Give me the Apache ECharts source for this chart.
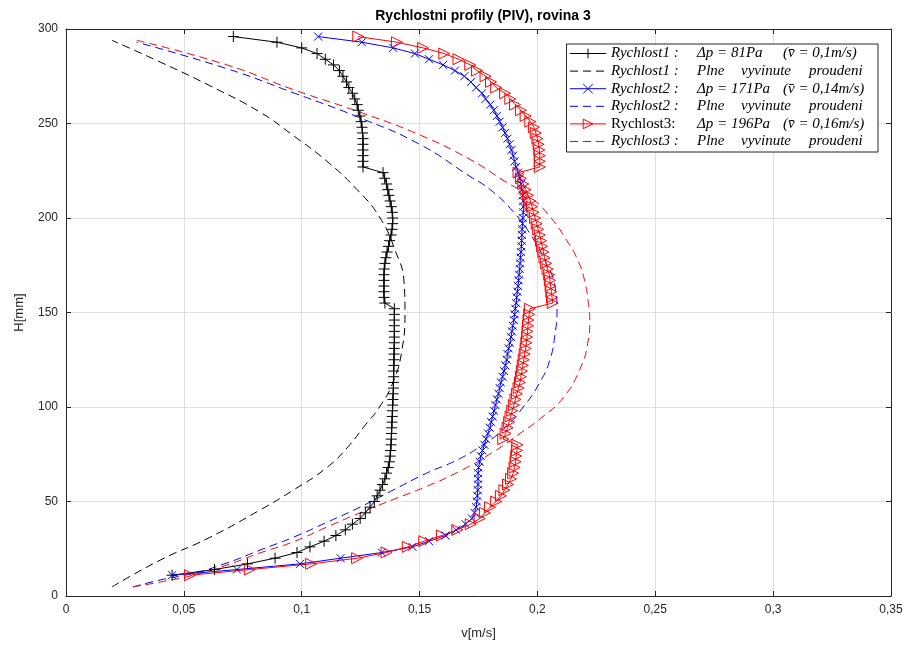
<!DOCTYPE html>
<html>
<head>
<meta charset="utf-8">
<script src="https://cdn.jsdelivr.net/npm/echarts@6/dist/echarts.min.js"></script>
<style>
    html, body { margin: 0; padding: 0; background: #fff; }
    #chart { width: 907px; height: 646px; }
</style>
</head>
<body>
<div id="chart"></div>
<script>
// heights of the PIV samples [mm]
var H = [
    11,14,17,20,23,26,29,32,
    35,38,41,44,47,50,53,56,
    59,62,65,68,71,74,77,80,
    83,86,89,92,95,98,101,104,
    107,110,113,116,119,122,125,128,
    131,134,137,140,143,146,149,152,
    155,158,161,164,167,170,173,176,
    179,182,185,188,191,194,197,200,
    203,206,209,212,215,218,221,224,
    227,230,233,236,239,242,245,248,
    251,254,257,260,263,266,269,272,
    275,278,281,284,287,290,293,296
];
// Rychlost1 [m/s]
var v1 = [
    0.045,0.063,0.077,0.0887,0.098,0.1035,0.1095,0.1145,
    0.1185,0.1215,0.1248,0.127,0.129,0.1308,0.132,0.1332,
    0.1343,0.1353,0.136,0.1367,0.1372,0.1375,0.1377,0.1379,
    0.138,0.1381,0.1382,0.1383,0.1384,0.1385,0.1386,0.1387,
    0.1388,0.1389,0.1389,0.139,0.139,0.1391,0.1391,0.1392,
    0.1392,0.1393,0.1393,0.1393,0.1393,0.1393,0.1393,0.1393,
    0.1353,0.1349,0.1349,0.1349,0.1349,0.1349,0.135,0.1353,
    0.1357,0.1362,0.1368,0.1373,0.1379,0.1383,0.1386,0.1386,
    0.1384,0.138,0.1375,0.137,0.1365,0.136,0.1352,0.1345,
    0.126,0.126,0.126,0.126,0.126,0.126,0.1258,0.1256,
    0.1252,0.1247,0.124,0.1235,0.1225,0.1215,0.120,0.119,
    0.1175,0.116,0.1135,0.110,0.1065,0.100,0.0895,0.071
];
// Rychlost2 [m/s]
var v2 = [
    0.045,0.0725,0.0993,0.1165,0.134,0.147,0.154,0.161,
    0.1655,0.1695,0.1722,0.1733,0.174,0.1743,0.1745,0.1747,
    0.1748,0.1748,0.1748,0.175,0.1755,0.176,0.1767,0.1775,
    0.1782,0.179,0.1798,0.1804,0.181,0.1816,0.1822,0.1828,
    0.1835,0.184,0.1845,0.1852,0.1858,0.1864,0.187,0.1873,
    0.1878,0.1883,0.1888,0.1892,0.1895,0.19,0.1903,0.1906,
    0.191,0.1912,0.1915,0.1918,0.192,0.1922,0.1925,0.1926,
    0.1928,0.193,0.1932,0.1933,0.1934,0.1935,0.1937,0.1938,
    0.194,0.194,0.194,0.1938,0.1935,0.193,0.1925,0.1918,
    0.191,0.1903,0.1897,0.189,0.1882,0.1873,0.1863,0.1852,
    0.184,0.1828,0.1815,0.18,0.178,0.1765,0.174,0.1718,
    0.169,0.165,0.16,0.154,0.148,0.1388,0.1255,0.107
];
// Rychlost3 [m/s]
var v3 = [
    0.0526,0.078,0.104,0.1235,0.136,0.145,0.152,0.1595,
    0.166,0.1717,0.1755,0.1777,0.1799,0.1825,0.1845,0.186,
    0.1875,0.1888,0.1897,0.1903,0.1907,0.191,0.1913,0.1915,
    0.1855,0.1865,0.1873,0.188,0.1886,0.1893,0.19,0.1907,
    0.1913,0.192,0.1926,0.193,0.1934,0.1938,0.1942,0.1946,
    0.195,0.1953,0.1956,0.1958,0.196,0.1962,0.1965,0.1968,
    0.2065,0.2062,0.2059,0.2056,0.2053,0.205,0.2043,0.2037,
    0.203,0.2025,0.202,0.2015,0.201,0.2003,0.1997,0.199,
    0.1983,0.1977,0.197,0.196,0.195,0.194,0.193,0.192,
    0.201,0.201,0.201,0.2008,0.2005,0.2,0.1993,0.1985,
    0.197,0.195,0.193,0.1905,0.1885,0.1863,0.1825,0.1803,
    0.178,0.1744,0.1715,0.1665,0.1605,0.1515,0.1404,0.124
];

// plne vyvinute proudeni (dashed profiles)
var p1H = [4.8,19,31,45.5,56,68,79,89,100,113,130,150,166,183,200.5,215,230,244,256,270,282.5,294];
var p1V = [0.0195,0.040,0.061,0.0823,0.0964,0.1107,0.1197,0.126,0.133,0.1387,0.1425,0.1438,0.1434,0.1396,0.133,0.1235,0.1107,0.096,0.0823,0.061,0.040,0.0195];
var p2H = [4.8,8.5,12,17.5,24.3,31,39,47,56,65,72,79,88,100,113,125,139,151,163.5,178,190,203,215,222,239,253,266,279,293];
var p2V = [0.0284,0.040,0.054,0.0683,0.0823,0.0963,0.1107,0.1247,0.1387,0.153,0.166,0.1756,0.1854,0.194,0.201,0.2053,0.2075,0.2083,0.2075,0.203,0.1977,0.190,0.180,0.1714,0.150,0.1247,0.097,0.0683,0.030];
var p3H = [4.8,7.4,11,16.4,22.8,28.6,36.5,44,51,58,66,76,86,95,105,120,135,146,153,167,178,188,200.5,211,220,231,244,256,268,281,294];
var p3V = [0.0284,0.040,0.054,0.0683,0.0823,0.0963,0.1107,0.1247,0.1387,0.153,0.167,0.181,0.1926,0.2024,0.211,0.218,0.2215,0.2222,0.2218,0.220,0.217,0.2125,0.2055,0.197,0.1854,0.1714,0.150,0.1247,0.0963,0.0683,0.030];

function pairs(vs, hs) {
    return hs.map(function (h, i) { return [vs[i], h]; });
}

var symPlus = 'path://M0,6L12,6M6,0L6,12';
var symCross = 'path://M0,0L10,10M0,10L10,0';
var symTri = 'path://M0,0L12,6L0,12Z';
var symHidden = 'path://M0,0L1,1';
var clear = 'rgba(0,0,0,0)';

var legendText = {
    'Rychlost1': '{a|Rychlost1 :}{b|Δp = 81Pa}{c|(v\u0304 = 0,1m/s)}',
    'Rychlost1 plne': '{a|Rychlost1 :}{p|Plne}{q|vyvinute}{c|proudeni}',
    'Rychlost2': '{a|Rychlost2 :}{b|Δp = 171Pa}{c|(v\u0304 = 0,14m/s)}',
    'Rychlost2 plne': '{a|Rychlost2 :}{p|Plne}{q|vyvinute}{c|proudeni}',
    'Rychlost3': '{ar|Rychlost3:}{b|Δp = 196Pa}{c|(v\u0304 = 0,16m/s)}',
    'Rychlost3 plne': '{a|Rychlost3 :}{p|Plne}{q|vyvinute}{c|proudeni}'
};

function measured(name, vs, color, sym, size) {
    return {
        name: name,
        type: 'line',
        data: pairs(vs, H),
        symbol: sym,
        symbolSize: size,
        showSymbol: true,
        lineStyle: { color: color, width: 1 },
        itemStyle: { color: 'none', borderColor: color, borderWidth: 1 },
        emphasis: { disabled: true },
        z: 3
    };
}
function plne(name, vs, hs, color) {
    return {
        name: name,
        type: 'line',
        data: pairs(vs, hs),
        symbol: symHidden,
        symbolSize: 2,
        showSymbol: false,
        smooth: true,
        lineStyle: { color: color, width: 1, type: [8, 5] },
        itemStyle: { color: clear, borderColor: clear, borderWidth: 0 },
        emphasis: { disabled: true },
        z: 2
    };
}

var axisCol = '#262626';
var serif = 'Liberation Serif';
function rs(extra) {
    var s = { fontFamily: serif, fontStyle: 'italic', fontSize: 15, lineHeight: 15, color: '#000' };
    for (var k in extra) s[k] = extra[k];
    return s;
}

var chart = echarts.init(document.getElementById('chart'));
chart.setOption({
    animation: false,
    backgroundColor: '#fff',
    title: {
        text: 'Rychlostni profily (PIV), rovina 3',
        left: 478,
        textAlign: 'center',
        top: 4,
        textStyle: { fontFamily: 'Liberation Sans', fontSize: 14, fontWeight: 'bold', color: '#000' }
    },
    grid: { left: 66, right: 16, top: 29, bottom: 50 },
    legend: {
        orient: 'vertical',
        right: 29,
        top: 44,
        padding: [2, 3, 3, 3],
        itemGap: 2.6,
        itemWidth: 36,
        itemHeight: 12,
        backgroundColor: '#fff',
        borderColor: axisCol,
        borderWidth: 1,
        selectedMode: false,
        lineStyle: { width: 1 },
        itemStyle: { borderWidth: 1 },
        formatter: function (name) { return legendText[name]; },
        textStyle: {
            color: '#000',
            fontSize: 15,
            lineHeight: 15,
            rich: {
                a: rs({ width: 86 }),
                ar: rs({ fontStyle: 'normal', width: 86 }),
                b: rs({ width: 86 }),
                c: rs({ width: 66 }),
                p: rs({ width: 44 }),
                q: rs({ width: 68 })
            }
        },
        data: ['Rychlost1', 'Rychlost1 plne', 'Rychlost2', 'Rychlost2 plne', 'Rychlost3', 'Rychlost3 plne']
    },
    xAxis: [{
        type: 'value',
        min: 0, max: 0.35, interval: 0.05,
        position: 'bottom',
        name: 'v[m/s]',
        nameLocation: 'middle',
        nameGap: 31,
        nameTextStyle: { fontFamily: 'Liberation Sans', fontSize: 13, color: axisCol },
        axisLine: { show: true, onZero: false, lineStyle: { color: axisCol, width: 1 } },
        axisTick: { show: true, inside: true, length: 5, lineStyle: { color: axisCol } },
        axisLabel: {
            fontFamily: 'Liberation Sans', fontSize: 12, color: axisCol, margin: 8,
            formatter: function (v) { return String(+v.toFixed(2)).replace('.', ','); }
        },
        splitLine: { show: true, lineStyle: { color: '#dfdfdf', width: 1 } }
    }, {
        type: 'value',
        min: 0, max: 0.35, interval: 0.05,
        position: 'top',
        axisLine: { show: true, onZero: false, lineStyle: { color: axisCol, width: 1 } },
        axisTick: { show: true, inside: true, length: 5, lineStyle: { color: axisCol } },
        axisLabel: { show: false },
        splitLine: { show: false }
    }],
    yAxis: [{
        type: 'value',
        min: 0, max: 300, interval: 50,
        position: 'left',
        name: 'H[mm]',
        nameLocation: 'middle',
        nameGap: 40,
        nameTextStyle: { fontFamily: 'Liberation Sans', fontSize: 13, color: axisCol },
        axisLine: { show: true, onZero: false, lineStyle: { color: axisCol, width: 1 } },
        axisTick: { show: true, inside: true, length: 5, lineStyle: { color: axisCol } },
        axisLabel: { fontFamily: 'Liberation Sans', fontSize: 12, color: axisCol, margin: 8 },
        splitLine: { show: true, lineStyle: { color: '#dfdfdf', width: 1 } }
    }, {
        type: 'value',
        min: 0, max: 300, interval: 50,
        position: 'right',
        axisLine: { show: true, onZero: false, lineStyle: { color: axisCol, width: 1 } },
        axisTick: { show: true, inside: true, length: 5, lineStyle: { color: axisCol } },
        axisLabel: { show: false },
        splitLine: { show: false }
    }],
    series: [
        measured('Rychlost1', v1, '#000000', symPlus, 11),
        plne('Rychlost1 plne', p1V, p1H, '#000000'),
        measured('Rychlost2', v2, '#0000ff', symCross, 8),
        plne('Rychlost2 plne', p2V, p2H, '#0000ff'),
        measured('Rychlost3', v3, '#ff0000', symTri, 11),
        plne('Rychlost3 plne', p3V, p3H, '#ff0000')
    ]
});
</script>
</body>
</html>
